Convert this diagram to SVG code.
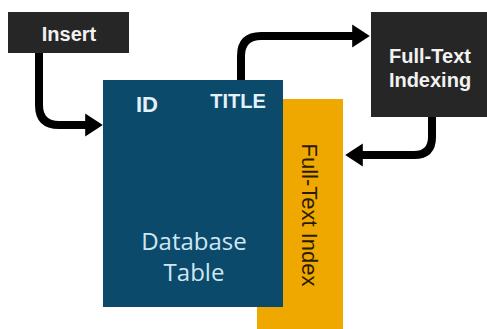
<svg xmlns="http://www.w3.org/2000/svg" width="487" height="329" viewBox="0 0 487 329">
<defs>
<style>
.dark{fill:#262626}
.lbl{font-family:"Liberation Sans",Arial,sans-serif;font-weight:bold;fill:#f2f2f2;text-anchor:middle}
.hdr{fill:#e3f1fa}
.db{font-family:"Open Sans","Noto Sans",sans-serif;font-size:24px;fill:#cfe6f3;text-anchor:middle}
.conn{fill:none;stroke:#000;stroke-width:8;stroke-linejoin:round}
</style>
<marker id="ah" markerWidth="4" markerHeight="4" refX="0.1" refY="2" orient="auto" markerUnits="strokeWidth">
<path d="M0,0.55 L2.2,2 L0,3.45 Z" fill="#000"/>
</marker>
</defs>
<rect width="487" height="329" fill="#fff"/>
<g id="fulltext-index">
<rect x="257" y="99" width="86" height="230" fill="#eea800"/>
<text transform="translate(302,215) rotate(90)" font-family="'Liberation Sans',Arial,sans-serif" font-size="22" fill="#2a1a00" text-anchor="middle">Full-Text Index</text>
</g>
<g id="database-table">
<rect x="103" y="80" width="180" height="227" fill="#0b4a6b"/>
<text x="147" y="112" class="lbl hdr" font-size="22">ID</text>
<text x="238" y="108" class="lbl hdr" font-size="20">TITLE</text>
<text x="194" y="250" class="db">Database</text>
<text x="194" y="281" class="db">Table</text>
</g>
<g id="insert">
<rect x="8" y="12" width="121" height="41" class="dark"/>
<text x="69" y="41" class="lbl" font-size="20">Insert</text>
</g>
<g id="fulltext-indexing">
<rect x="371" y="12" width="116" height="105" class="dark"/>
<text x="430" y="63" class="lbl" font-size="20">Full-Text</text>
<text x="430" y="87" class="lbl" font-size="20">Indexing</text>
</g>
<g id="connectors">
<path class="conn" d="M39,53 V105 Q39,125 59,125 H86" marker-end="url(#ah)"/>
<path class="conn" d="M241,80 V56 Q241,36 261,36 H353" marker-end="url(#ah)"/>
<path class="conn" d="M432,117 V137 Q432,155 414,155 H362" marker-end="url(#ah)"/>
</g>
</svg>
